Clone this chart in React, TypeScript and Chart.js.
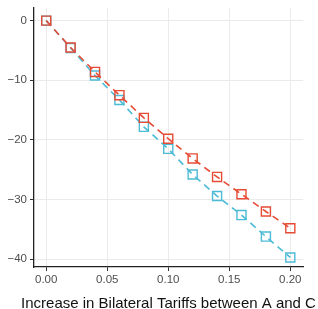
import React, { useEffect, useRef } from "react";
import { Chart, registerables } from "chart.js";

Chart.register(...registerables);

const xValues = [0, 0.02, 0.04, 0.06, 0.08, 0.1, 0.12, 0.14, 0.16, 0.18, 0.2];
const redValues = [0, -4.5, -8.6, -12.5, -16.3, -19.8, -23.1, -26.2, -29.1, -32.0, -34.8];
const blueValues = [0, -4.6, -9.2, -13.3, -17.8, -21.5, -25.8, -29.4, -32.6, -36.2, -39.7];
const xTicks = [0, 0.05, 0.1, 0.15, 0.2];
const yTicks = [0, -10, -20, -30, -40];
const xTitle = "Increase in Bilateral Tariffs between A and C";

export default function App() {
  const ref = useRef<HTMLCanvasElement>(null);
  useEffect(() => {
    if (!ref.current) return;
    const font = "'Liberation Sans', Arial, sans-serif";
    const mk = (vals: number[], color: string) => ({
      data: vals.map((v, i) => ({ x: xValues[i], y: v })),
      borderColor: color,
      backgroundColor: "transparent",
      borderWidth: 1.6,
      borderDash: [7, 5],
      pointStyle: "rect" as const,
      pointRadius: 6.4,
      pointBorderWidth: 1.4,
      pointBorderColor: color,
      pointBackgroundColor: "transparent",
      showLine: true,
      fill: false,
    });
    const titlePlugin = {
      id: "xTitleFree",
      afterDraw(c: any) {
        const ctx = c.ctx;
        const a = c.chartArea;
        ctx.save();
        ctx.font = `15px ${font}`;
        ctx.fillStyle = "#111111";
        ctx.textAlign = "center";
        ctx.textBaseline = "alphabetic";
        ctx.fillText(xTitle, (a.left + a.right) / 2, 307.5);
        ctx.restore();
      },
    };
    const chart = new Chart(ref.current, {
      type: "scatter",
      data: {
        datasets: [mk(redValues, "#E64B35"), mk(blueValues, "#4DBBD5")],
      },
      plugins: [titlePlugin],
      options: {
        animation: false,
        responsive: false,
        maintainAspectRatio: false,
        layout: { padding: { top: 5, right: 15, left: 0, bottom: 0 } },
        plugins: { legend: { display: false }, tooltip: { enabled: false } },
        scales: {
          x: {
            type: "linear",
            min: -0.01,
            max: 0.2104,
            afterBuildTicks: (s: any) => {
              s.ticks = xTicks.map((v) => ({ value: v }));
            },
            afterFit: (s: any) => {
              s.height = 42;
              s.paddingLeft = 0;
              s.paddingRight = 0;
            },
            grid: {
              color: "#EBEBEB",
              lineWidth: 1,
              tickColor: "#333333",
              tickLength: 4,
              drawTicks: true,
            },
            border: { color: "#222222", width: 1.3 },
            ticks: {
              color: "#4D4D4D",
              font: { family: font, size: 11.5 },
              padding: 2,
              maxRotation: 0,
              callback: (v: any) => Number(v).toFixed(2),
            },
            title: { display: false },
          },
          y: {
            type: "linear",
            min: -41.3,
            max: 2.15,
            afterBuildTicks: (s: any) => {
              s.ticks = yTicks.map((v) => ({ value: v }));
            },
            afterFit: (s: any) => {
              s.width = 34;
              s.paddingTop = 0;
              s.paddingBottom = 0;
            },
            grid: {
              color: "#EBEBEB",
              lineWidth: 1,
              tickColor: "#333333",
              tickLength: 4,
              drawTicks: true,
            },
            border: { color: "#222222", width: 1.3 },
            ticks: {
              color: "#4D4D4D",
              font: { family: font, size: 11.5 },
              padding: 3,
              callback: (v: any) => {
                const n = Number(v);
                return n < 0 ? "\u2212" + Math.abs(n) : String(n);
              },
            },
          },
        },
      },
    });
    return () => chart.destroy();
  }, []);
  return (
    <div style={{ position: "absolute", left: 0, top: 0, width: 318, height: 309, background: "#fff" }}>
      <canvas ref={ref} width={318} height={309} style={{ width: 318, height: 309, display: "block" }} />
    </div>
  );
}
